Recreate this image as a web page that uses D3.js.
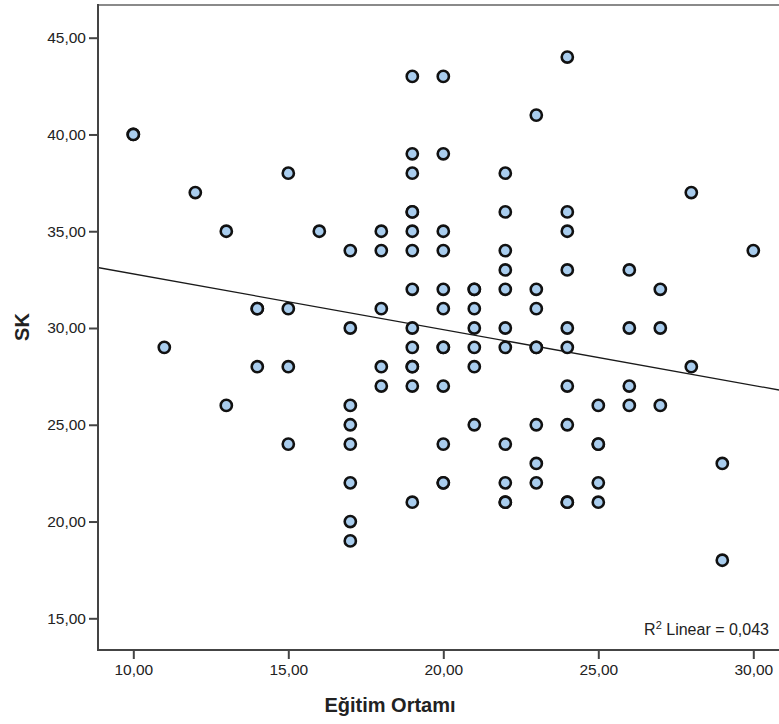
<!DOCTYPE html>
<html>
<head>
<meta charset="utf-8">
<script src="https://cdn.jsdelivr.net/npm/d3@7"></script>
<style>
  html, body { margin: 0; padding: 0; background: #fff; }
  svg { display: block; }
  text { font-family: Arial, "Liberation Sans", sans-serif; fill: #222; }
</style>
</head>
<body>
<svg id="chart" width="779" height="724"></svg>
<script>
// Eğitim Ortamı (x) vs SK (y); one entry per respondent, repeated pairs listed twice
const egitimOrtami = [
  10, 10,
  11,
  12,
  13, 13,
  14, 14, 14,
  15, 15, 15, 15,
  16,
  17, 17, 17, 17, 17, 17, 17, 17,
  18, 18, 18, 18, 18,
  19, 19, 19, 19, 19, 19, 19, 19, 19, 19, 19, 19, 19, 19,
  20, 20, 20, 20, 20, 20, 20, 20, 20, 20, 20, 20,
  21, 21, 21, 21, 21, 21, 21,
  22, 22, 22, 22, 22, 22, 22, 22, 22, 22, 22,
  23, 23, 23, 23, 23, 23, 23, 23,
  24, 24, 24, 24, 24, 24, 24, 24, 24, 24,
  25, 25, 25, 25, 25,
  26, 26, 26, 26,
  27, 27, 27,
  28, 28,
  29, 29,
  30
];
const skScores = [
  40, 40,
  29,
  37,
  35, 26,
  31, 31, 28,
  38, 31, 28, 24,
  35,
  34, 30, 26, 25, 24, 22, 20, 19,
  35, 34, 31, 28, 27,
  43, 39, 38, 36, 36, 35, 34, 32, 30, 29, 28, 28, 27, 21,
  43, 39, 35, 34, 32, 31, 29, 29, 27, 24, 22, 22,
  32, 32, 31, 30, 29, 28, 25,
  38, 36, 34, 33, 32, 30, 29, 24, 22, 21, 21,
  41, 32, 31, 29, 29, 25, 23, 22,
  44, 36, 35, 33, 30, 29, 27, 25, 21, 21,
  26, 24, 24, 22, 21,
  33, 30, 27, 26,
  32, 30, 26,
  37, 28,
  23, 18,
  34
];
const xTicks = [10, 15, 20, 25, 30];
const yTicks = [15, 20, 25, 30, 35, 40, 45];
const xTitle = "Eğitim Ortamı";
const yTitle = "SK";
const r2Text = "0,043";

const points = egitimOrtami.map((x, i) => ({ x, y: skScores[i] }));

// ordinary least squares fit line
const mx = d3.mean(points, d => d.x);
const my = d3.mean(points, d => d.y);
const sxy = d3.sum(points, d => (d.x - mx) * (d.y - my));
const sxx = d3.sum(points, d => (d.x - mx) ** 2);
const slope = sxy / sxx;
const intercept = my - slope * mx;

const svg = d3.select("#chart");
const plotLeft = 98, plotTop = 5, plotBottom = 650, plotRight = 800;

const x = d3.scaleLinear().domain([10, 30]).range([133.3, 753.3]);
const y = d3.scaleLinear().domain([15, 45]).range([618.3, 37.7]);

const fmt = d => d3.format(".2f")(d).replace(".", ",");

// frame
svg.append("line")
  .attr("x1", plotLeft).attr("x2", plotRight)
  .attr("y1", plotTop).attr("y2", plotTop)
  .attr("stroke", "#8a8a8a").attr("stroke-width", 2);

// x axis
const xAxis = svg.append("g")
  .attr("transform", `translate(0,${plotBottom})`)
  .call(d3.axisBottom(x).tickValues(xTicks).tickFormat(fmt).tickSize(9).tickPadding(5));
xAxis.select(".domain").remove();
xAxis.append("line")
  .attr("x1", plotLeft - 1).attr("x2", plotRight)
  .attr("stroke", "#444").attr("stroke-width", 2);

// y axis
const yAxis = svg.append("g")
  .attr("transform", `translate(${plotLeft},0)`)
  .call(d3.axisLeft(y).tickValues(yTicks).tickFormat(fmt).tickSize(9).tickPadding(3));
yAxis.select(".domain").remove();
yAxis.append("line")
  .attr("y1", plotTop - 1).attr("y2", plotBottom)
  .attr("stroke", "#444").attr("stroke-width", 2);

svg.selectAll(".tick line").attr("stroke", "#444").attr("stroke-width", 2);
svg.selectAll(".tick text")
  .style("font-size", "15.5px")
  .style("font-family", "Arial, 'Liberation Sans', sans-serif")
  .attr("fill", "#222");

// fit line, clipped to the plot area
svg.append("clipPath").attr("id", "plotClip")
  .append("rect")
  .attr("x", plotLeft + 1).attr("y", plotTop + 1)
  .attr("width", plotRight - plotLeft).attr("height", plotBottom - plotTop - 2);

const x0 = x.invert(plotLeft), x1 = x.invert(plotRight);
svg.append("line")
  .attr("clip-path", "url(#plotClip)")
  .attr("x1", x(x0)).attr("y1", y(intercept + slope * x0))
  .attr("x2", x(x1)).attr("y2", y(intercept + slope * x1))
  .attr("stroke", "#1a1a1a").attr("stroke-width", 1.3);

// points
svg.append("g").selectAll("circle")
  .data(points)
  .join("circle")
  .attr("cx", d => x(d.x))
  .attr("cy", d => y(d.y))
  .attr("r", 5.6)
  .attr("fill", "#a9cdee")
  .attr("stroke", "#111")
  .attr("stroke-width", 2.6);

// R² annotation
const r2 = svg.append("text")
  .attr("x", 769).attr("y", 635)
  .attr("text-anchor", "end")
  .style("font-size", "16px");
r2.append("tspan").text("R");
r2.append("tspan").attr("dy", -6).style("font-size", "11px").text("2");
r2.append("tspan").attr("dy", 6).text(" Linear = " + r2Text);

// axis titles
svg.append("text")
  .attr("x", 390).attr("y", 712)
  .attr("text-anchor", "middle")
  .style("font-size", "20px").style("font-weight", "bold")
  .text(xTitle);

svg.append("text")
  .attr("transform", "translate(29,327) rotate(-90)")
  .attr("text-anchor", "middle")
  .style("font-size", "20px").style("font-weight", "bold")
  .text(yTitle);
</script>
</body>
</html>
